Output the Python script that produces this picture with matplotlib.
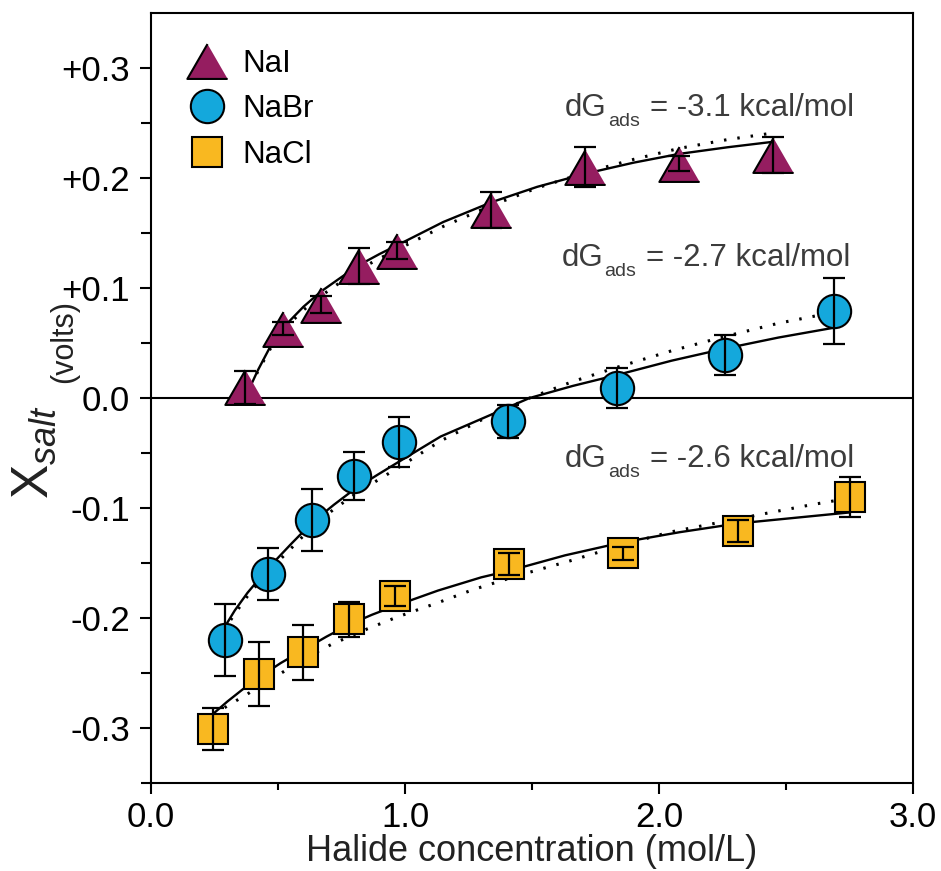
import numpy as np
import matplotlib
matplotlib.use("Agg")
import matplotlib.pyplot as plt
from matplotlib.transforms import offset_copy

plt.rcParams['font.family'] = ['Liberation Sans', 'DejaVu Sans']
plt.rcParams['mathtext.fontset'] = 'custom'
plt.rcParams['mathtext.rm'] = 'Liberation Sans'
plt.rcParams['mathtext.it'] = 'Liberation Sans:italic'

# measured points (concentration in mol/L, X_salt in volts, +/- error)
nai_x = [0.37, 0.52, 0.67, 0.82, 0.97, 1.34, 1.71, 2.08, 2.45]
nai_y = [0.010, 0.063, 0.085, 0.120, 0.134, 0.171, 0.210, 0.213, 0.221]
nai_err = [0.015, 0.006, 0.008, 0.016, 0.008, 0.016, 0.018, 0.007, 0.016]

nabr_x = [0.29, 0.46, 0.635, 0.80, 0.975, 1.405, 1.835, 2.26, 2.69]
nabr_y = [-0.220, -0.160, -0.111, -0.071, -0.040, -0.021, 0.009, 0.039, 0.079]
nabr_err = [0.033, 0.024, 0.028, 0.022, 0.023, 0.015, 0.018, 0.018, 0.030]

nacl_x = [0.245, 0.425, 0.60, 0.78, 0.96, 1.41, 1.86, 2.31, 2.75]
nacl_y = [-0.301, -0.251, -0.231, -0.201, -0.180, -0.151, -0.141, -0.121, -0.090]
nacl_err = [0.019, 0.029, 0.025, 0.016, 0.009, 0.010, 0.006, 0.010, 0.018]

# fitted isotherms (solid) and alternative fits (dotted)
nai_fit_x = [0.37, 0.42, 0.47, 0.52, 0.60, 0.67, 0.75, 0.82, 0.90, 0.97,
             1.15, 1.34, 1.52, 1.71, 1.90, 2.08, 2.27, 2.45]
nai_fit_y = [0.000, 0.025, 0.047, 0.064, 0.083, 0.097, 0.110, 0.121, 0.131, 0.139,
             0.160, 0.178, 0.192, 0.204, 0.214, 0.222, 0.228, 0.233]
nai_dot_y = [0.000, 0.024, 0.045, 0.062, 0.080, 0.093, 0.106, 0.117, 0.127, 0.135,
             0.156, 0.175, 0.191, 0.205, 0.217, 0.227, 0.235, 0.241]

nabr_fit_x = [0.285, 0.33, 0.38, 0.46, 0.55, 0.635, 0.72, 0.80, 0.89, 0.975,
              1.14, 1.30, 1.49, 1.66, 1.835, 2.05, 2.26, 2.47, 2.69]
nabr_fit_y = [-0.210, -0.193, -0.177, -0.155, -0.133, -0.113, -0.097, -0.083, -0.070, -0.058,
              -0.035, -0.019, 0.000, 0.011, 0.021, 0.034, 0.045, 0.055, 0.064]
nabr_dot_y = [-0.212, -0.196, -0.180, -0.158, -0.137, -0.117, -0.101, -0.088, -0.075, -0.063,
              -0.039, -0.020, 0.000, 0.015, 0.028, 0.043, 0.056, 0.068, 0.078]

nacl_fit_x = [0.245, 0.30, 0.36, 0.425, 0.51, 0.60, 0.69, 0.78, 0.87, 0.96,
              1.13, 1.30, 1.41, 1.63, 1.86, 2.08, 2.31, 2.53, 2.75]
nacl_fit_y = [-0.287, -0.276, -0.265, -0.254, -0.241, -0.229, -0.217, -0.206, -0.197, -0.189,
              -0.175, -0.163, -0.157, -0.143, -0.131, -0.122, -0.114, -0.109, -0.104]
nacl_dot_x = [0.245, 0.30, 0.38, 0.45, 0.52, 0.61, 0.71, 0.85, 0.97, 1.13,
              1.27, 1.45, 1.65, 1.85, 2.04, 2.24, 2.44, 2.60, 2.75]
nacl_dot_y = [-0.288, -0.280, -0.269, -0.259, -0.249, -0.236, -0.224, -0.210, -0.199, -0.186,
              -0.174, -0.161, -0.148, -0.134, -0.122, -0.113, -0.104, -0.097, -0.091]

labels = ["NaI", "NaBr", "NaCl"]
dg_text = ["-3.1", "-2.7", "-2.6"]
dg_pos = [(1.63, 0.256), (1.615, 0.120), (1.63, -0.063)]

xticks = [0.0, 1.0, 2.0, 3.0]
xtick_labels = ["0.0", "1.0", "2.0", "3.0"]
yticks = [-0.3, -0.2, -0.1, 0.0, 0.1, 0.2, 0.3]
ytick_labels = ["-0.3", "-0.2", "-0.1", "0.0", "+0.1", "+0.2", "+0.3"]

c_nai = "#951d60"
c_nabr = "#14a8dc"
c_nacl = "#f9b820"
tri = [(0, 0.866), (-1, -0.866), (1, -0.866)]

fig = plt.figure(figsize=(9.41, 8.71), dpi=100)
ax = fig.add_axes([0.1605, 0.101, 0.8098, 0.884])

ax.axhline(0, color="black", lw=1.5, zorder=1)

for fx, fy, dx, dy in [(nai_fit_x, nai_fit_y, nai_fit_x, nai_dot_y),
                       (nabr_fit_x, nabr_fit_y, nabr_fit_x, nabr_dot_y),
                       (nacl_fit_x, nacl_fit_y, nacl_dot_x, nacl_dot_y)]:
    ax.plot(fx, fy, color="black", lw=1.7, zorder=2)
    ax.plot(dx, dy, color="black", lw=2.2, dashes=(0.8, 3.6), zorder=2)

h1, = ax.plot(nai_x, nai_y, ls="none", marker=tri, ms=29, mfc=c_nai, mec="black", mew=1.5, zorder=3)
h2, = ax.plot(nabr_x, nabr_y, ls="none", marker="o", ms=24, mfc=c_nabr, mec="black", mew=1.5, zorder=3)
h3, = ax.plot(nacl_x, nacl_y, ls="none", marker="s", ms=21.5, mfc=c_nacl, mec="black", mew=1.5, zorder=3)

for x, y, e in [(nai_x, nai_y, nai_err), (nabr_x, nabr_y, nabr_err), (nacl_x, nacl_y, nacl_err)]:
    ax.errorbar(x, y, yerr=e, fmt="none", ecolor="black", elinewidth=1.6,
                capsize=8, capthick=1.6, zorder=4)

# free energy labels: "dG" + lowered small "ads" + remainder
for (tx, ty), v in zip(dg_pos, dg_text):
    ax.text(tx, ty, "dG", fontsize=22.5, color="#3c3c3c", ha="left", va="baseline")
    ax.text(tx, ty, "ads", fontsize=14, color="#3c3c3c", ha="left", va="baseline",
            transform=offset_copy(ax.transData, fig=fig, x=31, y=-7, units="points"))
    ax.text(tx, ty, "= " + v + " kcal/mol", fontsize=22.5, color="#3c3c3c",
            ha="left", va="baseline",
            transform=offset_copy(ax.transData, fig=fig, x=61, y=0, units="points"))

ax.legend([h1, h2, h3], labels, loc="upper left", bbox_to_anchor=(0.02, 0.982),
          frameon=False, fontsize=22.5, handlelength=1.2, handletextpad=0.55,
          labelspacing=0.5, numpoints=1, borderaxespad=0.3)

ax.set_xlim(0, 3.0)
ax.set_ylim(-0.35, 0.35)
ax.set_xticks(xticks)
ax.set_xticklabels(xtick_labels)
ax.set_xticks([0.5, 1.5, 2.5], minor=True)
ax.set_yticks(yticks)
ax.set_yticklabels(ytick_labels)
ax.set_yticks([-0.35, -0.25, -0.15, -0.05, 0.05, 0.15, 0.25], minor=True)

for s in ax.spines.values():
    s.set_linewidth(1.5)
ax.tick_params(axis="both", which="major", direction="out", length=8, width=1.5,
               labelsize=25, colors="black")
ax.tick_params(axis="x", which="major", pad=5)
ax.tick_params(axis="y", which="major", pad=7)
ax.tick_params(axis="x", which="minor", direction="out", length=5, width=1.5)
ax.tick_params(axis="y", which="minor", direction="out", length=7, width=1.5)

ax.set_xlabel("Halide concentration (mol/L)", fontsize=26, color="#222222", labelpad=0)
ax.text(-0.153, 0.43, r"$\mathrm{X}_{salt}$", fontsize=37, rotation=90,
        transform=ax.transAxes, ha="center", va="center", color="#222222")
ax.text(-0.114, 0.573, "(volts)", fontsize=22, rotation=90,
        transform=ax.transAxes, ha="center", va="center", color="#222222")

fig.savefig("out.png", dpi=100)
